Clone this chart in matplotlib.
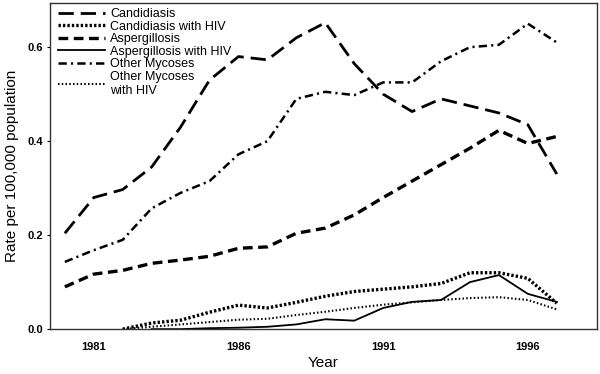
import matplotlib
matplotlib.use("Agg")
import matplotlib.pyplot as plt

plt.rcParams['font.family'] = ['Liberation Sans', 'DejaVu Sans']
plt.rcParams['lines.scale_dashes'] = False

years = list(range(1980, 1998))
years_hiv = list(range(1982, 1998))

candidiasis = [0.204, 0.28, 0.297, 0.345, 0.43, 0.53, 0.58, 0.573, 0.62, 0.652,
               0.565, 0.50, 0.463, 0.49, 0.475, 0.46, 0.435, 0.33]
aspergillosis = [0.09, 0.117, 0.125, 0.14, 0.147, 0.155, 0.172, 0.175, 0.204, 0.215,
                 0.243, 0.28, 0.315, 0.35, 0.385, 0.423, 0.395, 0.41]
other_mycoses = [0.143, 0.168, 0.19, 0.257, 0.29, 0.315, 0.372, 0.40, 0.49, 0.505,
                 0.498, 0.525, 0.525, 0.57, 0.60, 0.605, 0.65, 0.61]

candidiasis_hiv = [0.0, 0.013, 0.019, 0.036, 0.051, 0.045, 0.057, 0.07, 0.08, 0.085,
                   0.09, 0.097, 0.12, 0.12, 0.108, 0.055]
aspergillosis_hiv = [None, 0.0, 0.0, 0.002, 0.003, 0.005, 0.01, 0.021, 0.018, 0.045,
                     0.058, 0.062, 0.10, 0.115, 0.075, 0.058]
other_mycoses_hiv = [0.0, 0.005, 0.01, 0.015, 0.02, 0.022, 0.03, 0.037, 0.045, 0.052,
                     0.057, 0.062, 0.066, 0.068, 0.062, 0.042]

xticks = [1981, 1986, 1991, 1996]
yticks = [0.0, 0.2, 0.4, 0.6]

fig = plt.figure(figsize=(6.0, 3.74), dpi=100)
ax = fig.add_axes([0.083, 0.12, 0.912, 0.872])

ax.plot(years, candidiasis, color='black', lw=2.0, dashes=(11, 5), label='Candidiasis')
ax.plot(years_hiv, candidiasis_hiv, color='black', lw=2.4, dashes=(1.7, 1.5),
        label='Candidiasis with HIV')
ax.plot(years, aspergillosis, color='black', lw=2.4, dashes=(7, 4), label='Aspergillosis')
asp_x = [y for y, v in zip(years_hiv, aspergillosis_hiv) if v is not None]
asp_y = [v for v in aspergillosis_hiv if v is not None]
ax.plot(asp_x, asp_y, color='black', lw=1.3, label='Aspergillosis with HIV')
ax.plot(years, other_mycoses, color='black', lw=1.8, dashes=(6, 3, 1.5, 3),
        label='Other Mycoses')
ax.plot(years_hiv, other_mycoses_hiv, color='black', lw=1.5, dashes=(1.1, 1.6),
        label='Other Mycoses\nwith HIV')

ax.set_xlim(1979.48, 1998.39)
ax.set_ylim(0, 0.694)
ax.set_xticks(xticks)
ax.set_yticks(yticks)
ax.set_xticklabels([str(x) for x in xticks], fontsize=8, fontweight='bold')
ax.set_yticklabels(['%.1f' % y for y in yticks], fontsize=8, fontweight='bold')
ax.tick_params(axis='both', length=2, width=0.8, pad=3)
ax.tick_params(axis='x', length=0, pad=9)
for s in ax.spines.values():
    s.set_linewidth(1.0)
    s.set_color('#333333')

ax.set_xlabel('Year', fontsize=11, labelpad=3)
ax.set_ylabel('Rate per 100,000 population', fontsize=11, labelpad=6)

leg = ax.legend(loc='upper left', frameon=False, fontsize=9, handlelength=3.8,
                labelspacing=0.05, handletextpad=0.4, borderaxespad=0.0,
                bbox_to_anchor=(0.005, 1.0))

fig.savefig('out.png', dpi=100)
